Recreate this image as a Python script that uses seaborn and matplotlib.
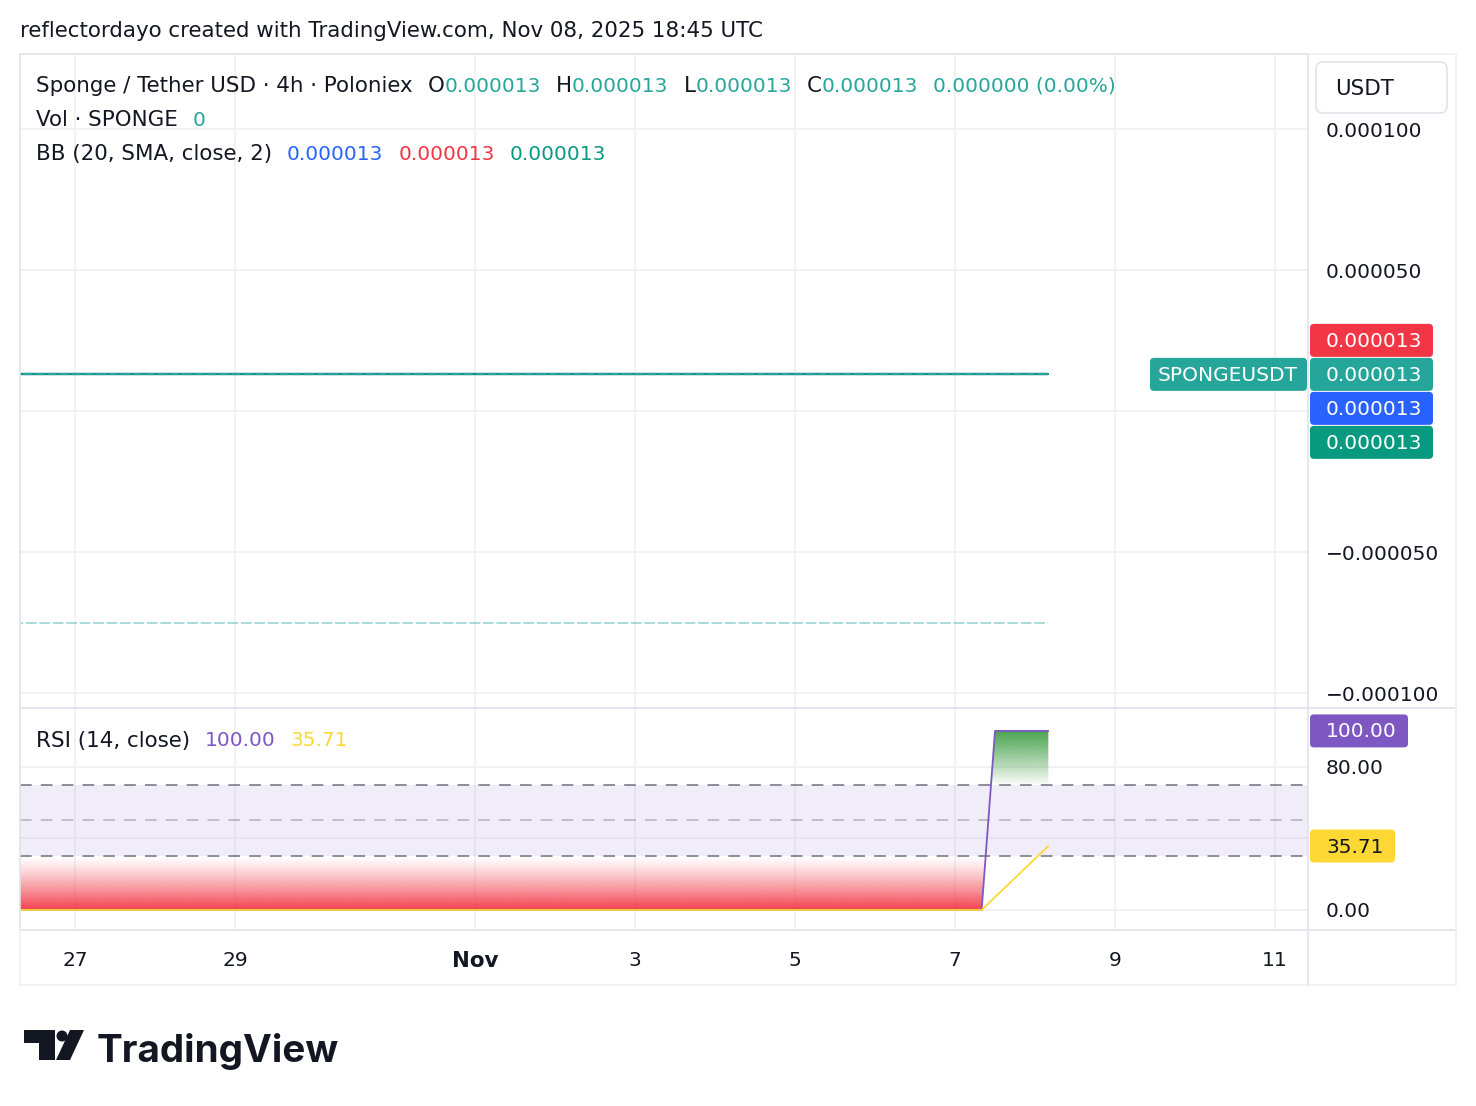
import numpy as np
import pandas as pd
import matplotlib
matplotlib.use("Agg")
import matplotlib.pyplot as plt
import matplotlib.dates as mdates
import matplotlib.transforms as mtransforms
from matplotlib.patches import FancyBboxPatch, Polygon, Circle
from matplotlib.lines import Line2D
import seaborn as sns

# ---- data ----
price_times = ["2025-10-25 00:00", "2025-11-08 04:00"]
close_price = [0.000013, 0.000013]
bb_basis = [0.000013, 0.000013]
bb_upper = [0.000013, 0.000013]
bb_lower = [0.000013, 0.000013]
dashed_level = [-0.000075, -0.000075]

rsi_times = ["2025-10-25 00:00", "2025-11-07 08:00", "2025-11-07 12:00", "2025-11-07 16:00",
             "2025-11-07 20:00", "2025-11-08 00:00", "2025-11-08 04:00"]
rsi_values = [0, 0, 100, 100, 100, 100, 100]
rsi_ma_values = [0, 0, 7.14, 14.29, 21.43, 28.57, 35.71]

price_ticks = [-0.0001, -0.00005, 0.0, 0.00005, 0.0001]
price_tick_labels = ["\u22120.000100", "\u22120.000050", "", "0.000050", "0.000100"]
rsi_ticks = [0, 40, 80]
rsi_tick_labels = ["0.00", "", "80.00"]
date_ticks = ["2025-10-27", "2025-10-29", "2025-11-01", "2025-11-03",
              "2025-11-05", "2025-11-07", "2025-11-09", "2025-11-11"]
date_tick_labels = ["27", "29", "Nov", "3", "5", "7", "9", "11"]

# ---- colours ----
TEAL = "#26A69A"
BLUE = "#2962FF"
RED = "#F23645"
GREEN = "#089981"
PURPLE = "#7E57C2"
YELLOW = "#FDD835"
TXT = "#131722"
BORDER = "#E0E3EB"
GRID = "#F0F0F0"

sns.set_style("white")
plt.rcParams["font.family"] = ["DejaVu Sans"]
FS = 14.5      # numbers
FS_W = 15.4    # words

W, H = 1476, 1106
fig = plt.figure(figsize=(W / 100, H / 100), dpi=100)
fig.patch.set_facecolor("white")


def fx(px):
    return px / W


def fy(py):
    return 1 - py / H


ax = fig.add_axes([fx(20), fy(708), fx(1308) - fx(20), fy(54) - fy(708)])
ax_rsi = fig.add_axes([fx(20), fy(930), fx(1308) - fx(20), fy(708) - fy(930)])

price_df = pd.DataFrame({
    "time": pd.to_datetime(price_times),
    "close": close_price,
    "basis": bb_basis,
    "upper": bb_upper,
    "lower": bb_lower,
    "level": dashed_level,
})
rsi_df = pd.DataFrame({
    "time": pd.to_datetime(rsi_times),
    "rsi": rsi_values,
    "ma": rsi_ma_values,
})

# ---- price pane ----
sns.lineplot(data=price_df, x="time", y="level", ax=ax, color=TEAL, alpha=0.5,
             linewidth=1.1, linestyle=(0, (7, 1.8)))
sns.lineplot(data=price_df, x="time", y="basis", ax=ax, color=BLUE, linewidth=1.5)
sns.lineplot(data=price_df, x="time", y="upper", ax=ax, color=RED, linewidth=1.5)
sns.lineplot(data=price_df, x="time", y="lower", ax=ax, color=GREEN, linewidth=1.6)
sns.lineplot(data=price_df, x="time", y="close", ax=ax, color=TEAL, linewidth=1.6,
             linestyle=(0, (4, 1.5)))

t0 = pd.Timestamp("2025-10-27")
x_left = t0 + pd.Timedelta(days=(20 - 75) / 80)
x_right = t0 + pd.Timedelta(days=(1308 - 75) / 80)

for a in (ax, ax_rsi):
    a.set_xlim(x_left, x_right)
    a.set_xticks(pd.to_datetime(date_ticks))
    a.grid(True, color=GRID, linewidth=1.2)
    a.set_axisbelow(True)
    a.set_xlabel("")
    a.set_ylabel("")
    a.yaxis.tick_right()
    a.tick_params(axis="y", length=0, pad=13, labelsize=FS, labelcolor=TXT)
    a.tick_params(axis="x", length=0)
    for s in a.spines.values():
        s.set_color(BORDER)
        s.set_linewidth(1.2)

ax.set_ylim(-0.0001053, 0.0001266)
ax.set_yticks(price_ticks)
ax.set_yticklabels(price_tick_labels)
ax.tick_params(axis="x", labelbottom=False)

# ---- RSI pane ----
ax_rsi.axhspan(30, 70, color=PURPLE, alpha=0.1, lw=0)
ax_rsi.axhline(70, color="#787B86", lw=1.2, ls=(0, (7, 5.5)))
ax_rsi.axhline(30, color="#787B86", lw=1.2, ls=(0, (7, 5.5)))
ax_rsi.axhline(50, color="#787B86", alpha=0.5, lw=1.2, ls=(0, (7, 5.5)))

xnum = mdates.date2num(rsi_df["time"])
rsi_arr = np.array(rsi_values, dtype=float)


def gradient_fill(lo, hi, color, where, top_strong, power):
    poly = ax_rsi.fill_between(xnum, rsi_arr, lo if top_strong else hi, where=where,
                               interpolate=True, alpha=0)
    rgb = matplotlib.colors.to_rgb(color)
    n = 256
    img = np.zeros((n, 1, 4))
    img[:, 0, :3] = rgb
    ramp = np.linspace(0, 1, n)
    img[:, 0, 3] = 0.95 * (ramp if top_strong else ramp[::-1]) ** power
    im = ax_rsi.imshow(img, extent=[xnum[0], xnum[-1], lo, hi], origin="lower",
                       aspect="auto", zorder=1.5, interpolation="bilinear")
    im.set_clip_path(poly.get_paths()[0], transform=ax_rsi.transData)


gradient_fill(0, 30, RED, rsi_arr <= 30, False, 1.2)
gradient_fill(70, 100, "#43A047", rsi_arr >= 70, True, 0.9)

sns.lineplot(data=rsi_df, x="time", y="rsi", ax=ax_rsi, color=PURPLE, linewidth=1.3)
sns.lineplot(data=rsi_df, x="time", y="ma", ax=ax_rsi, color=YELLOW, linewidth=1.3)

ax_rsi.set_xlim(x_left, x_right)
ax_rsi.set_ylim(-11.2, 112.8)
ax_rsi.set_yticks(rsi_ticks)
ax_rsi.set_yticklabels(rsi_tick_labels)
ax_rsi.set_xlabel("")
ax_rsi.set_ylabel("")
ax_rsi.set_xticklabels(date_tick_labels)
ax_rsi.tick_params(axis="x", labelsize=FS, labelcolor=TXT, pad=15)
for lab in ax_rsi.get_xticklabels():
    if lab.get_text() == "Nov":
        lab.set_fontweight("bold")
        lab.set_fontsize(FS_W)
ax.set_xlabel("")

# ---- frame lines outside the axes ----
ident = mtransforms.IdentityTransform()


def hline(x0, x1, y, color=BORDER):
    fig.add_artist(Line2D([x0, x1], [H - y, H - y], color=color, lw=1.2, transform=ident))


def vline(x, y0, y1, color=BORDER):
    fig.add_artist(Line2D([x, x], [H - y0, H - y1], color=color, lw=1.2, transform=ident))


hline(1308, 1456, 54, "#F0F0F0")
hline(1308, 1456, 708)
hline(1308, 1456, 930)
hline(20, 1456, 985, "#F0F0F0")
vline(1456, 54, 985, "#F0F0F0")
vline(20, 930, 985, "#F0F0F0")
vline(1308, 930, 985)

# ---- text rows ----
renderer = fig.canvas.get_renderer()


def text_row(x, y, parts):
    for s, color, gap, size in parts:
        x += gap
        t = fig.text(fx(x), fy(y), s, color=color, fontsize=size, va="center", ha="left")
        x = t.get_window_extent(renderer).x1


fig.text(fx(20), fy(31), "reflectordayo created with TradingView.com, Nov 08, 2025 18:45 UTC",
         color=TXT, fontsize=FS_W, va="center", ha="left")

last = f"{close_price[-1]:.6f}"
text_row(36, 86, [
    ("Sponge / Tether USD \u00b7 4h \u00b7 Poloniex", TXT, 0, FS_W),
    ("O", TXT, 15, FS_W), (last, TEAL, 0, FS),
    ("H", TXT, 15, FS_W), (last, TEAL, 0, FS),
    ("L", TXT, 15, FS_W), (last, TEAL, 0, FS),
    ("C", TXT, 15, FS_W), (last, TEAL, 0, FS),
    ("0.000000 (0.00%)", TEAL, 15, FS),
])
text_row(36, 120, [("Vol \u00b7 SPONGE", TXT, 0, FS_W), ("0", TEAL, 15, FS)])
text_row(36, 154, [
    ("BB (20, SMA, close, 2)", TXT, 0, FS_W),
    (f"{bb_basis[-1]:.6f}", BLUE, 15, FS),
    (f"{bb_upper[-1]:.6f}", RED, 15, FS),
    (f"{bb_lower[-1]:.6f}", GREEN, 15, FS),
])
text_row(36, 741, [
    ("RSI (14, close)", TXT, 0, FS_W),
    (f"{rsi_values[-1]:.2f}", PURPLE, 15, FS),
    (f"{rsi_ma_values[-1]:.2f}", YELLOW, 15, FS),
])

# ---- price scale tags ----
def tag(x0, x1, yc, face, label, txtcolor="white", h=33, inset=16, size=FS):
    box = FancyBboxPatch((x0, H - yc - h / 2), x1 - x0, h,
                         boxstyle="round,pad=0,rounding_size=4", transform=ident,
                         fc=face, ec="none", zorder=5)
    fig.add_artist(box)
    fig.text(fx(x0 + inset), fy(yc + 1), label, color=txtcolor, fontsize=size,
             va="center", ha="left", zorder=6)


def to_px(a, value):
    return H - a.transData.transform((0, value))[1]


yc_close = to_px(ax, close_price[-1])
tag(1310, 1433, yc_close - 34, RED, f"{bb_upper[-1]:.6f}")
tag(1310, 1433, yc_close, TEAL, f"{close_price[-1]:.6f}")
tag(1150, 1307, yc_close, TEAL, "SPONGEUSDT", inset=8)
tag(1310, 1433, yc_close + 34, BLUE, f"{bb_basis[-1]:.6f}")
tag(1310, 1433, yc_close + 68, GREEN, f"{bb_lower[-1]:.6f}")

tag(1310, 1408, to_px(ax_rsi, rsi_values[-1]), PURPLE, f"{rsi_values[-1]:.2f}")
tag(1310, 1395, to_px(ax_rsi, rsi_ma_values[-1]), YELLOW, f"{rsi_ma_values[-1]:.2f}", TXT)

# currency box
fig.add_artist(FancyBboxPatch((1316, H - 113), 131, 51, boxstyle="round,pad=0,rounding_size=7",
                              transform=ident, fc="white", ec=BORDER, lw=1.2))
fig.text(fx(1335), fy(89), "USDT", color=TXT, fontsize=FS_W, va="center", ha="left")

# ---- TradingView logo ----
logo = "#131722"
fig.add_artist(Polygon([(24, H - 1030), (55, H - 1030), (55, H - 1060), (39, H - 1060),
                        (39, H - 1043), (24, H - 1043)], closed=True, transform=ident,
                       fc=logo, ec="none"))
fig.add_artist(Circle((62, H - 1036), 5.5, transform=ident, fc=logo, ec="none"))
fig.add_artist(Polygon([(70, H - 1030), (84, H - 1030), (70, H - 1060), (56, H - 1060)],
                       closed=True, transform=ident, fc=logo, ec="none"))
fig.text(fx(97), fy(1062), "TradingView", color=logo, fontsize=27.8,
         family=["Inter", "DejaVu Sans"], fontweight="bold", va="baseline", ha="left")

fig.savefig("out.png", dpi=100, facecolor="white")
